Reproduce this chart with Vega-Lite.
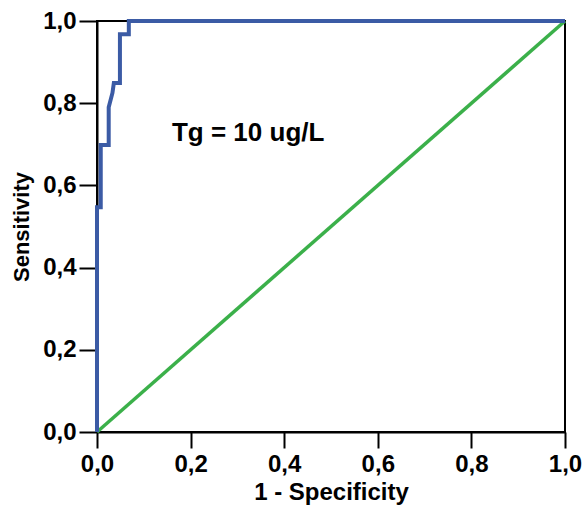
{
  "$schema": "https://vega.github.io/schema/vega-lite/v6.json",
  "width": 468,
  "height": 411,
  "autosize": {"type": "none"},
  "padding": {"left": 97, "top": 21, "right": 19, "bottom": 74},
  "background": "white",
  "config": {
    "view": {"stroke": "black", "strokeWidth": 2},
    "font": "Liberation Sans",
    "axis": {
      "grid": false,
      "domainColor": "black",
      "domainWidth": 2,
      "tickColor": "black",
      "tickWidth": 2,
      "labelFont": "Liberation Sans",
      "labelFontWeight": "bold",
      "labelFontSize": 24,
      "labelColor": "black",
      "labelFlush": false,
      "labelOverlap": false,
      "titleFont": "Liberation Sans",
      "titleFontWeight": "bold",
      "titleColor": "black"
    }
  },
  "datasets": {
    "roc": [
      {"fpr": 0.0, "tpr": 0.0, "ord": 0},
      {"fpr": 0.0, "tpr": 0.547, "ord": 1},
      {"fpr": 0.008, "tpr": 0.547, "ord": 2},
      {"fpr": 0.008, "tpr": 0.698, "ord": 3},
      {"fpr": 0.025, "tpr": 0.698, "ord": 4},
      {"fpr": 0.025, "tpr": 0.79, "ord": 5},
      {"fpr": 0.033, "tpr": 0.825, "ord": 6},
      {"fpr": 0.036, "tpr": 0.849, "ord": 7},
      {"fpr": 0.049, "tpr": 0.849, "ord": 8},
      {"fpr": 0.049, "tpr": 0.968, "ord": 9},
      {"fpr": 0.068, "tpr": 0.968, "ord": 10},
      {"fpr": 0.068, "tpr": 1.0, "ord": 11},
      {"fpr": 1.0, "tpr": 1.0, "ord": 12}
    ],
    "diag": [
      {"fpr": 0.0, "tpr": 0.0},
      {"fpr": 1.0, "tpr": 1.0}
    ],
    "label": [
      {"fpr": 0.323, "tpr": 0.727, "text": "Tg = 10 ug/L"}
    ]
  },
  "layer": [
    {
      "data": {"name": "diag"},
      "mark": {"type": "line", "color": "#3bb04a", "strokeWidth": 3.5},
      "encoding": {
        "x": {
          "field": "fpr", "type": "quantitative",
          "scale": {"domain": [0, 1], "nice": false},
          "axis": {
            "title": "1 - Specificity",
            "titleFontSize": 24,
            "values": [0, 0.2, 0.4, 0.6, 0.8, 1],
            "labelExpr": "replace(format(datum.value, '.1f'), '.', ',')",
            "tickSize": 16,
            "labelPadding": 4,
            "titlePadding": 4
          }
        },
        "y": {
          "field": "tpr", "type": "quantitative",
          "scale": {"domain": [0, 1], "nice": false},
          "axis": {
            "title": "Sensitivity",
            "titleFontSize": 22,
            "values": [0, 0.2, 0.4, 0.6, 0.8, 1],
            "labelExpr": "replace(format(datum.value, '.1f'), '.', ',')",
            "tickSize": 18,
            "labelPadding": 3,
            "titlePadding": 9
          }
        }
      }
    },
    {
      "data": {"name": "roc"},
      "mark": {"type": "line", "color": "#3b5ba5", "strokeWidth": 4},
      "encoding": {
        "x": {"field": "fpr", "type": "quantitative"},
        "y": {"field": "tpr", "type": "quantitative"},
        "order": {"field": "ord", "type": "quantitative"}
      }
    },
    {
      "data": {"name": "label"},
      "mark": {"type": "text", "fontSize": 26, "fontWeight": "bold", "font": "Liberation Sans", "color": "black", "align": "center", "baseline": "middle"},
      "encoding": {
        "x": {"field": "fpr", "type": "quantitative"},
        "y": {"field": "tpr", "type": "quantitative"},
        "text": {"field": "text"}
      }
    }
  ]
}
